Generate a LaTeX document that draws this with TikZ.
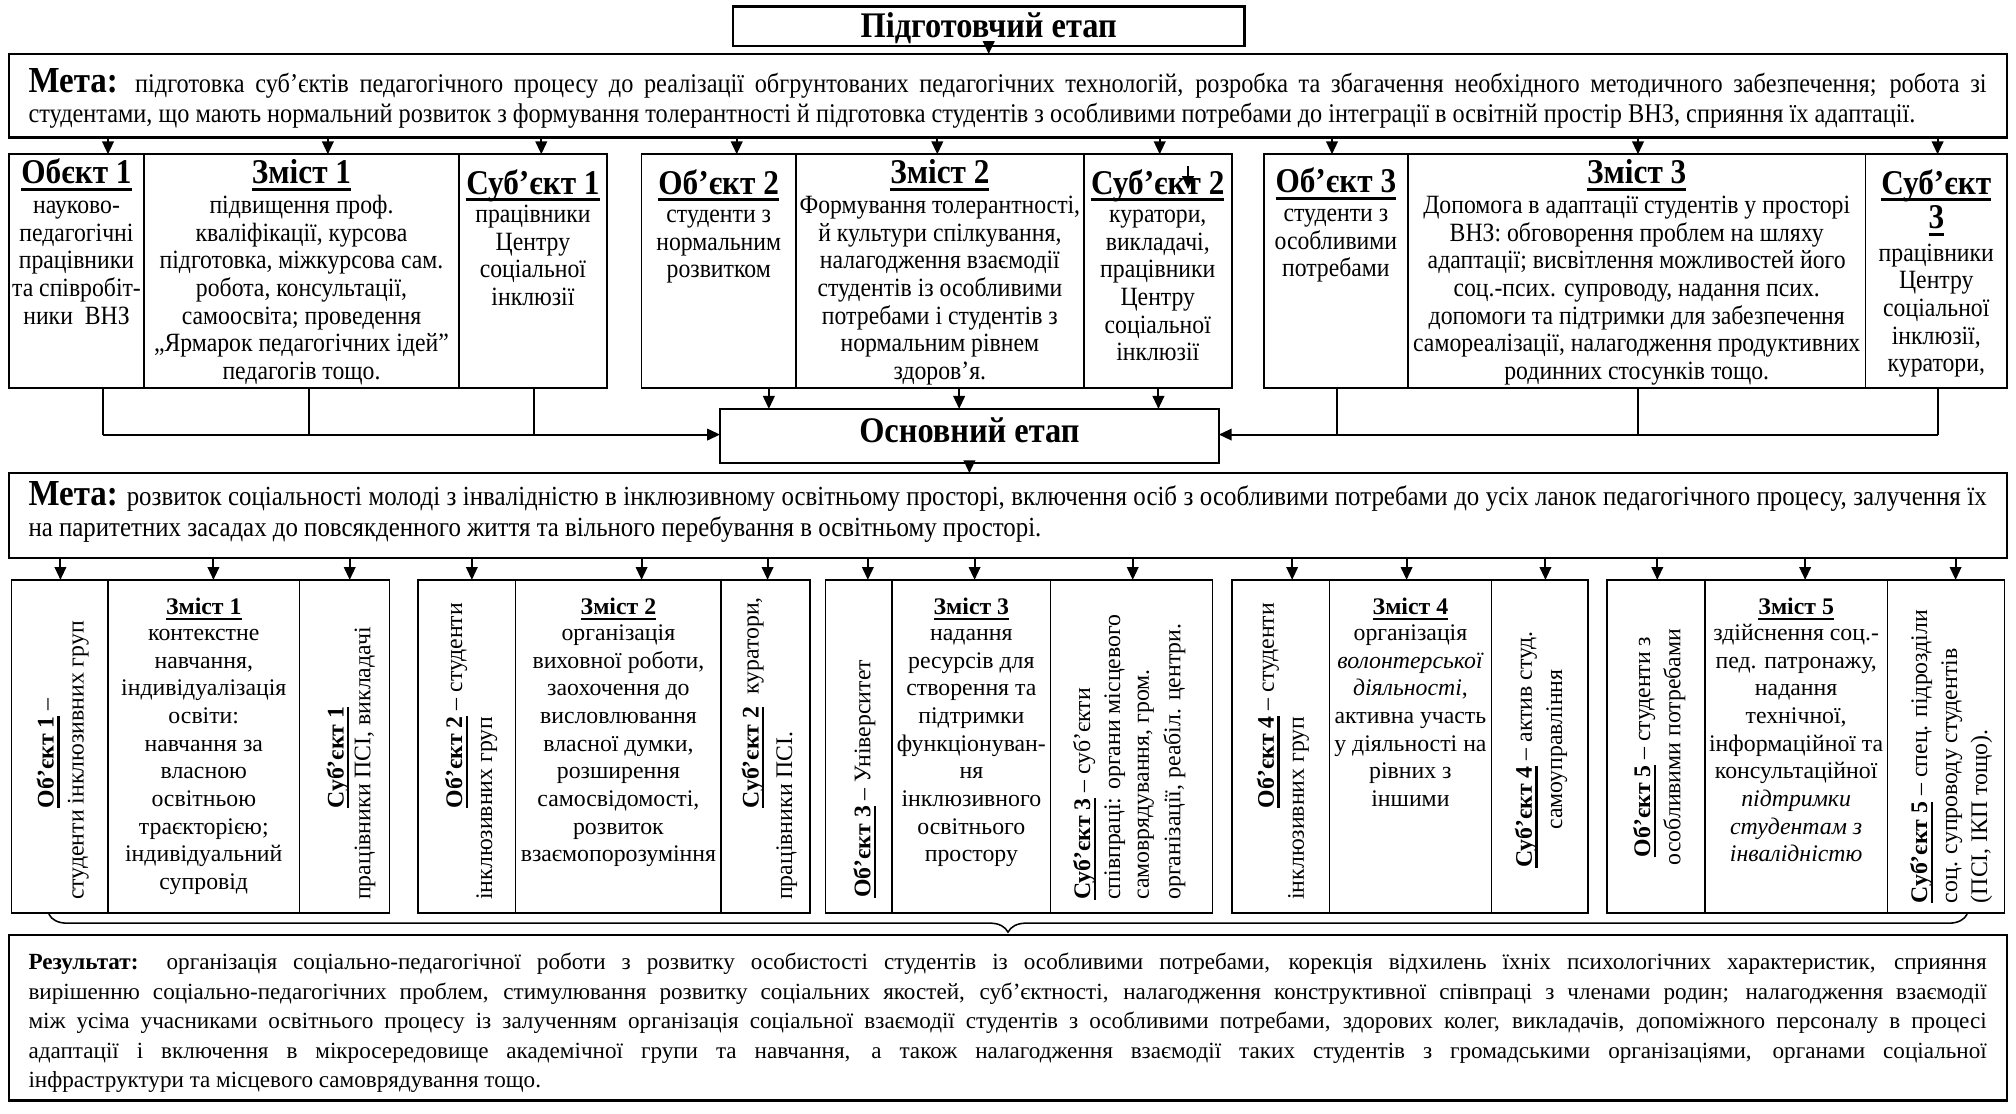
\documentclass[tikz,border=0pt]{standalone}
\usepackage{fontspec}
\setmainfont{Liberation Serif}
\newfontfamily\nar[FakeStretch=0.9]{Liberation Serif}
\usetikzlibrary{arrows.meta,decorations.pathreplacing}
\newcommand\fA{\fontsize{18.5}{21.5}\selectfont}
\newcommand\fN{\nar\fontsize{20.5}{21.5}\selectfont}
\newcommand\fT{\nar\fontsize{27}{30}\selectfont}
\newcommand\fS{\nar\fontsize{28}{30}\selectfont}
\newcommand\fM{\nar\fontsize{21}{23}\selectfont}
\newcommand\fMM{\nar\fontsize{21.5}{24}\selectfont}
\newcommand\fR{\fontsize{18}{23}\selectfont}
\newcommand\sr{\rule{0pt}{15pt}}
\newcommand\srn{\rule{0pt}{16pt}}
\newcommand\srb{\rule{0pt}{22pt}}
\newcommand\ulb[3]{\setbox0\hbox{#3}\rlap{\rule[-#2]{\wd0}{#1}}\box0}
\newcommand\Ta[1]{\ulb{2.4pt}{5.5pt}{#1}}
\newcommand\Tb[1]{\textbf{\ulb{1.8pt}{4.5pt}{#1}}}
\newcommand\Mt{{\nar\fontsize{28.5}{30}\selectfont\bfseries Мета:}}
\newcommand\cellat[5]{\node[cl, minimum width={#4-#2}, minimum height={#5-#3}] (#1) at (#2,#3) {};}
\tikzset{
  bx/.style={draw, line width=1.8pt, inner sep=0, outer sep=0, anchor=north west},
  cl/.style={draw, line width=1.4pt, inner sep=0, outer sep=0, anchor=north west},
  arr/.style={line width=1.5pt, -{Triangle[length=10pt,width=9pt]}},
  ln/.style={line width=1.5pt},
  tx/.style={inner sep=0, anchor=north, align=center, font=\fA},
  txn/.style={inner sep=0, anchor=north, align=center, font=\fN},
  tt/.style={inner sep=0, anchor=base, font=\fT\bfseries},
  ts/.style={inner sep=0, anchor=base, font=\fS\bfseries},
  tb/.style={inner sep=0, anchor=base, font=\fA},
  rt/.style={inner sep=0, rotate=90, anchor=base west, font=\fA},
  rtc/.style={inner sep=0, rotate=90, anchor=base, font=\fA},
  para/.style={inner sep=0, anchor=north west, align=left},
}
\begin{document}
\begin{tikzpicture}[x=1pt,y=-1pt]
\fill[white] (0,0) rectangle (1568,866);
\useasboundingbox (0,0) rectangle (1568,866);

% stage boxes
\node[bx, minimum width=398, minimum height=31] (ttl) at (570,5) {};
\node[ts] (ttlt) at (769,29) {Підготовчий етап};
\node[bx, minimum width=1554, minimum height=65] (m1) at (7,42) {};
\node[para, font=\fM] (m1t) at (22,50) {\srb\makebox[1523pt][s]{\Mt{} підготовка суб’єктів педагогічного процесу до реалізації обгрунтованих педагогічних технологій, розробка та збагачення необхідного методичного забезпечення; робота зі}\\
студентами, що мають нормальний розвиток з формування толерантності й підготовка студентів з особливими потребами до інтеграції в освітній простір ВНЗ, сприяння їх адаптації.};

% row 1 cells
\cellat{c11}{7}{120}{112}{302}
\cellat{c12}{112}{120}{357}{302}
\cellat{c13}{357}{120}{472}{302}
\cellat{c21}{499}{120}{619}{302}
\cellat{c22}{619}{120}{843}{302}
\cellat{c23}{843}{120}{958}{302}
\cellat{c31}{983}{120}{1095}{302}
\cellat{c32}{1095}{120}{1451}{302}
\cellat{c33}{1451}{120}{1561}{302}

\node[tt] (h11) at (59.5,143) {\Ta{Обєкт 1}};
\node[tt] (h12) at (234.5,143) {\Ta{Зміст 1}};
\node[tt] (h13) at (414.5,151) {\Ta{Суб’єкт 1}};
\node[tt] (h21) at (559,151) {\Ta{Об’єкт 2}};
\node[tt] (h22) at (731,143) {\Ta{Зміст 2}};
\node[tt] (h23) at (900.5,151) {\Ta{Суб’єкт 2}};
\node[tt] (h31) at (1039,150) {\Ta{Об’єкт 3}};
\node[tt] (h32) at (1273,143) {\Ta{Зміст 3}};
\node[tt] (h33) at (1506,151) {\Ta{Суб’єкт}};
\node[tt] (h33b) at (1506,178) {\Ta{3}};

\node[txn] (b11) at (59.5,150) {\srn науково-\\педагогічні\\працівники\\та співробіт-\\ники\ \ ВНЗ};
\node[txn] (b12) at (234.5,150) {\srn підвищення проф.\\кваліфікації, курсова\\підготовка, міжкурсова сам.\\робота, консультації,\\самоосвіта; проведення\\„Ярмарок педагогічних ідей”\\педагогів тощо.};
\node[txn] (b13) at (414.5,157) {\srn працівники\\Центру\\соціальної\\інклюзії};
\node[txn] (b21) at (559,157) {\srn студенти з\\нормальним\\розвитком};
\node[txn] (b22) at (731,150) {\srn Формування толерантності,\\й культури спілкування,\\налагодження взаємодії\\студентів із особливими\\потребами і студентів з\\нормальним рівнем\\здоров’я.};
\node[txn] (b23) at (900.5,157) {\srn куратори,\\викладачі,\\працівники\\Центру\\соціальної\\інклюзії};
\node[txn] (b31) at (1039,156) {\srn студенти з\\особливими\\потребами};
\node[txn] (b32) at (1273,150) {\srn Допомога в адаптації студентів у просторі\\ВНЗ: обговорення проблем на шляху\\адаптації; висвітлення можливостей його\\соц.-псих. супроводу, надання псих.\\допомоги та підтримки для забезпечення\\самореалізації, налагодження продуктивних\\родинних стосунків тощо.};
\node[txn] (b33) at (1506,187) {\srn працівники\\Центру\\соціальної\\інклюзії,\\куратори,};

% stray arrow
\coordinate (s1) at (924,129);
\coordinate (s2) at (924,147);
\draw[arr] (s1) -- (s2);

% main stage
\node[bx, minimum width=388, minimum height=42] (os) at (560,318) {};
\node[ts] (ost) at (754,344) {Основний етап};
\node[bx, minimum width=1554, minimum height=66] (m2) at (7,368) {};
\node[para, font=\fMM] (m2t) at (22,371) {\srb\makebox[1523pt][s]{\Mt{} розвиток соціальності молоді з інвалідністю в інклюзивному освітньому просторі, включення осіб з особливими потребами до усіх ланок педагогічного процесу, залучення їх}\\
на паритетних засадах до повсякденного життя та вільного перебування в освітньому просторі.};

% row 2 cells
\cellat{d11}{9}{451}{84}{710}
\cellat{d12}{84}{451}{233}{710}
\cellat{d13}{233}{451}{303}{710}
\cellat{d21}{325}{451}{401}{710}
\cellat{d22}{401}{451}{561}{710}
\cellat{d23}{561}{451}{630}{710}
\cellat{d31}{642}{451}{694}{710}
\cellat{d32}{694}{451}{817}{710}
\cellat{d33}{817}{451}{943}{710}
\cellat{d41}{958}{451}{1034}{710}
\cellat{d42}{1034}{451}{1160}{710}
\cellat{d43}{1160}{451}{1235}{710}
\cellat{d51}{1250}{451}{1326}{710}
\cellat{d52}{1326}{451}{1468}{710}
\cellat{d53}{1468}{451}{1559}{710}

\node[tb] (g12) at (158.5,478) {\Tb{Зміст 1}};
\node[tb] (g22) at (481,478) {\Tb{Зміст 2}};
\node[tb] (g32) at (755.5,478) {\Tb{Зміст 3}};
\node[tb] (g42) at (1097,478) {\Tb{Зміст 4}};
\node[tb] (g52) at (1397,478) {\Tb{Зміст 5}};

\node[tx] (e12) at (158.5,483) {\sr контекстне\\навчання,\\індивідуалізація\\освіти:\\навчання за\\власною\\освітньою\\траєкторією;\\індивідуальний\\супровід};
\node[tx] (e22) at (481,483) {\sr організація\\виховної роботи,\\заохочення до\\висловлювання\\власної думки,\\розширення\\самосвідомості,\\розвиток\\взаємопорозуміння};
\node[tx] (e32) at (755.5,483) {\sr надання\\ресурсів для\\створення та\\підтримки\\функціонуван-\\ня\\інклюзивного\\освітнього\\простору};
\node[tx] (e42) at (1097,483) {\sr організація\\\textit{волонтерської}\\\textit{діяльності},\\активна участь\\у діяльності на\\рівних з\\іншими};
\node[tx] (e52) at (1397,483) {\sr здійснення соц.-\\пед. патронажу,\\надання\\технічної,\\інформаційної та\\консультаційної\\\textit{підтримки}\\\textit{студентам з}\\\textit{інвалідністю}};

% rotated texts
\node[rt] (r11a) at (41.8,628.7) {\Tb{Об’єкт 1} –};
\node[rt] (r11b) at (65.1,700) {студенти інклюзивних груп};
\node[rt] (r13a) at (267.3,628.7) {\Tb{Суб’єкт 1}};
\node[rt] (r13b) at (288.1,700) {працівники ПСІ, викладачі};
\node[rt] (r21a) at (359.4,628.7) {\Tb{Об’єкт 2} – студенти};
\node[rt] (r21b) at (382.7,700) {інклюзивних груп};
\node[rt] (r23a) at (590.1,628.7) {\Tb{Суб’єкт 2}\ \ куратори,};
\node[rt] (r23b) at (616.1,700) {працівники ПСІ.};
\node[rt] (r31a) at (677,698.5) {\Tb{Об’єкт 3} – Університет};
\node[rt] (r33a) at (847.9,700) {\Tb{Суб’єкт 3} – суб’єкти};
\node[rt] (r33b) at (871.2,700) {співпраці: органи місцевого};
\node[rt] (r33c) at (893.5,700) {самоврядування, гром.};
\node[rt] (r33d) at (918.1,700) {організації, реабіл. центри.};
\node[rt] (r41a) at (990.7,628.7) {\Tb{Об’єкт 4} – студенти};
\node[rt] (r41b) at (1014.1,700) {інклюзивних груп};
\node[rtc] (r43a) at (1191.5,583) {\Tb{Суб’єкт 4} – актив студ.};
\node[rtc] (r43b) at (1215,583) {самоуправління};
\node[rtc] (r51a) at (1283.5,581) {\Tb{Об’єкт 5} – студенти з};
\node[rtc] (r51b) at (1306.9,581) {особливими потребами};
\node[rt] (r53a) at (1498.8,702.6) {\Tb{Суб’єкт 5} – спец. підрозділи};
\node[rt] (r53b) at (1522.2,702.6) {соц. супроводу студентів};
\node[rt] (r53c) at (1545.5,702.6) {(ПСІ, ІКП тощо).};

% result
\node[bx, minimum width=1554, minimum height=129] (res) at (7,727) {};
\node[para, font=\fR] (rest) at (22,739) {\sr\makebox[1523pt][s]{\textbf{Результат:} організація соціально-педагогічної роботи з розвитку особистості студентів із особливими потребами, корекція відхилень їхніх психологічних характеристик, сприяння}\\
\makebox[1523pt][s]{вирішенню соціально-педагогічних проблем, стимулювання розвитку соціальних якостей, суб’єктності, налагодження конструктивної співпраці з членами родин; налагодження взаємодії}\\
\makebox[1523pt][s]{між усіма учасниками освітнього процесу із залученням організація соціальної взаємодії студентів з особливими потребами, здорових колег, викладачів, допоміжного персоналу в процесі}\\
\makebox[1523pt][s]{адаптації і включення в мікросередовище академічної групи та навчання, а також налагодження взаємодії таких студентів з громадськими організаціями, органами соціальної}\\
інфраструктури та місцевого самоврядування тощо.};

% brace
\coordinate (brl) at (38,711);
\coordinate (brr) at (1530,711);
\draw[line width=1.2pt, decorate, decoration={brace, mirror, amplitude=14pt}] (brl) -- (brr);

% connectors
\draw[arr] (ttl.south) -- (ttl.south |- m1.north);
\foreach \n/\x/\c in {1/84/c11, 2/255/c12, 3/421/c13, 4/573/c21, 5/729/c22, 6/902/c23, 7/1036/c31, 8/1274/c32, 9/1507/c33}{
  \coordinate (a\n) at (\x,107);
  \draw[arr] (a\n) -- (a\n |- \c.north);
}
\foreach \n/\x/\c in {1/80/c11, 2/240/c12, 3/415/c13, 7/1040/c31, 8/1274/c32, 9/1507/c33}{
  \coordinate (q\n) at (\x,338);
  \draw[ln] (q\n |- \c.south) -- (q\n);
}
\draw[arr] (q1) -- (q1 -| os.west);
\draw[arr] (q9) -- (q9 -| os.east);
\foreach \n/\x/\c in {4/598/c21, 5/746/c22, 6/901/c23}{
  \coordinate (q\n) at (\x,302);
  \draw[arr] (q\n) -- (q\n |- os.north);
}
\draw[arr] (os.south) -- (os.south |- m2.north);
\foreach \n/\x/\c in {1/47/d11, 2/166/d12, 3/272/d13, 4/367/d21, 5/499/d22, 6/597/d23, 7/675/d31, 8/758/d32, 9/881/d33, 10/1005/d41, 11/1094/d42, 12/1202/d43, 13/1289/d51, 14/1404/d52, 15/1521/d53}{
  \coordinate (p\n) at (\x,434);
  \draw[arr] (p\n) -- (p\n |- \c.north);
}
\end{tikzpicture}
\end{document}
